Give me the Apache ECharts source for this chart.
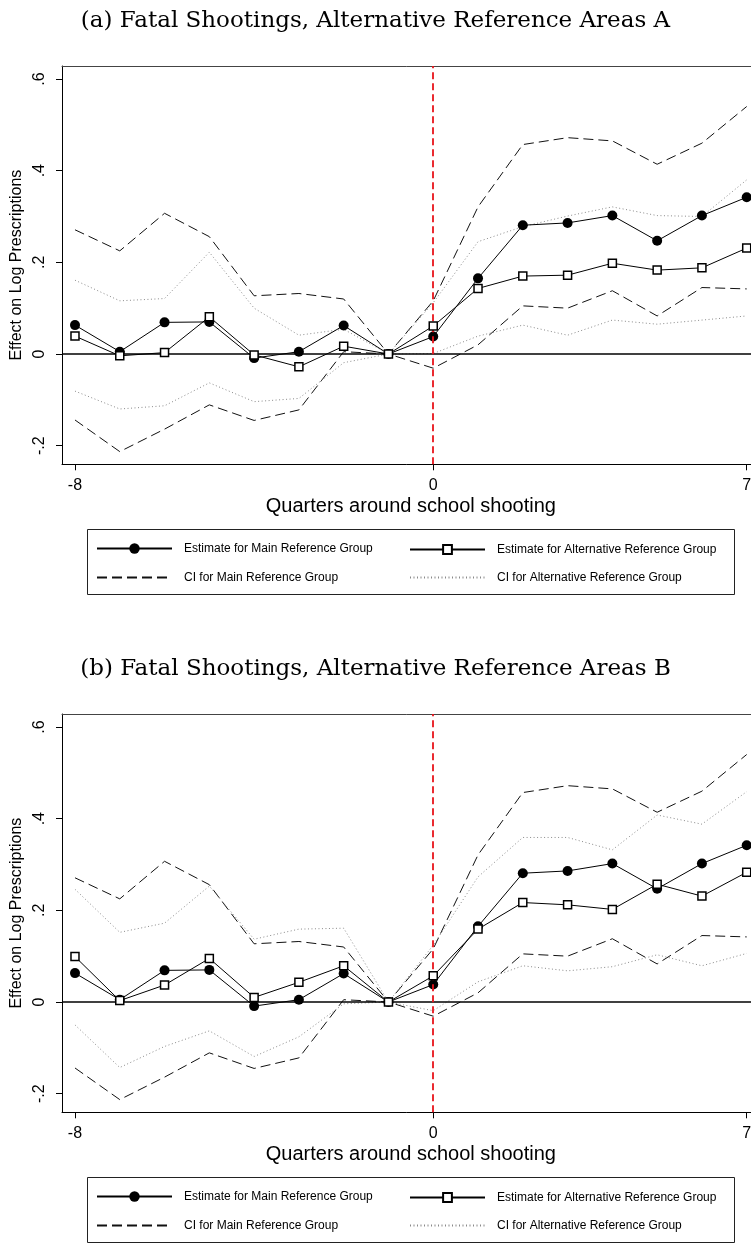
<!DOCTYPE html>
<html><head><meta charset="utf-8">
<script src="https://cdn.jsdelivr.net/npm/echarts@6/dist/echarts.min.js"></script>
<style>html,body{margin:0;padding:0;background:#fff}#c{width:751px;height:1243px}</style>
</head><body><div id="c"></div>
<script>
// ---- data ----
const quarters = [-8,-7,-6,-5,-4,-3,-2,-1,0,1,2,3,4,5,6,7];
const xTicks = [-8,0,7];
const yTicks = [-0.2,0,0.2,0.4,0.6];
const titles = ['(a) Fatal Shootings, Alternative Reference Areas A','(b) Fatal Shootings, Alternative Reference Areas B'];
const legendNames = ['Estimate for Main Reference Group','Estimate for Alternative Reference Group','CI for Main Reference Group','CI for Alternative Reference Group'];

// main reference group (same in both panels)
const mainEst = [0.063,0.005,0.069,0.070,-0.009,0.005,0.062,0,0.038,0.165,0.281,0.286,0.302,0.247,0.302,0.342];
const mainHi  = [0.271,0.225,0.307,0.256,0.127,0.132,0.120,0,0.116,0.321,0.457,0.472,0.465,0.414,0.460,0.540];
const mainLo  = [-0.144,-0.213,-0.164,-0.111,-0.145,-0.122,0.005,0,-0.031,0.020,0.105,0.100,0.138,0.083,0.145,0.142];
// panel A alternative group
const altEstA = [0.039,-0.004,0.003,0.081,-0.002,-0.028,0.017,0,0.061,0.143,0.170,0.172,0.198,0.183,0.188,0.231];
const altHiA  = [0.161,0.116,0.121,0.222,0.100,0.041,0.054,0,0.112,0.245,0.278,0.301,0.321,0.302,0.300,0.380];
const altLoA  = [-0.081,-0.120,-0.113,-0.063,-0.104,-0.097,-0.019,0,0.001,0.039,0.063,0.041,0.074,0.065,0.074,0.083];
// panel B alternative group
const altEstB = [0.099,0.003,0.037,0.095,0.010,0.043,0.079,0,0.057,0.159,0.217,0.212,0.202,0.257,0.231,0.283];
const altHiB  = [0.246,0.152,0.172,0.253,0.137,0.159,0.161,0,0.124,0.273,0.359,0.359,0.332,0.408,0.388,0.459];
const altLoB  = [-0.050,-0.143,-0.097,-0.063,-0.119,-0.076,-0.004,0,-0.019,0.044,0.079,0.068,0.077,0.103,0.079,0.106];

const panels = [
  {est: altEstA, hi: altHiA, lo: altLoA},
  {est: altEstB, hi: altHiB, lo: altLoB}
];

// ---- build ----
const pairs = arr => quarters.map((q,i)=>[q, arr[i]]);
const SANS = 'Liberation Sans, Arial, Helvetica, sans-serif';
const yFmt = v => { if (Math.abs(v) < 1e-9) return '0'; return String(Math.round(v*10)/10).replace('0.', '.'); };
const X_MIN = -8.29, X_MAX = 7.29, Y_MIN = -0.2407, Y_MAX = 0.6284;

const option = {
  animation: false,
  backgroundColor: '#fff',
  title: [], grid: [], xAxis: [], yAxis: [], series: [], legend: [], graphic: []
};

panels.forEach((p, k) => {
  const dy = k * 648;
  option.title.push({
    text: titles[k], left: 'center', top: 5 + dy,
    textStyle: {fontFamily: 'DejaVu Serif, serif', fontSize: 23, fontWeight: 'normal', color: '#000'}
  });
  option.grid.push({left: 62, top: 66 + dy, width: 697.7, height: 398.3, show: false,
    containLabel: false, outerBoundsMode: 'none'});
  option.xAxis.push({
    gridIndex: k, type: 'value', min: X_MIN, max: X_MAX,
    axisLine: {show: true, onZero: false, lineStyle: {color: '#000', width: 1}},
    axisTick: {show: true, customValues: xTicks, length: 6, lineStyle: {color: '#000'}},
    axisLabel: {customValues: xTicks, fontSize: 16, color: '#000', margin: 13, fontFamily: SANS,
      hideOverlap: false, showMinLabel: true, showMaxLabel: true},
    splitLine: {show: false},
    name: 'Quarters around school shooting', nameLocation: 'middle', nameGap: 32,
    nameTextStyle: {fontSize: 20, color: '#000', fontFamily: SANS}
  });
  option.xAxis.push({
    gridIndex: k, type: 'value', position: 'top', min: X_MIN, max: X_MAX,
    axisLine: {show: true, onZero: false, lineStyle: {color: '#444', width: 1}},
    axisTick: {show: false}, axisLabel: {show: false}, splitLine: {show: false}
  });
  option.yAxis.push({
    gridIndex: k, type: 'value', min: Y_MIN, max: Y_MAX,
    axisLine: {show: true, onZero: false, lineStyle: {color: '#000', width: 1}},
    axisTick: {show: true, customValues: yTicks, length: 6, lineStyle: {color: '#000'}},
    axisLabel: {customValues: yTicks, rotate: 90, formatter: yFmt, fontSize: 16, color: '#000', margin: 14, fontFamily: SANS},
    splitLine: {show: false},
    name: 'Effect on Log Prescriptions', nameLocation: 'middle', nameRotate: 90, nameGap: 31,
    nameTextStyle: {fontSize: 16, color: '#000', fontFamily: SANS}
  });
  const base = {xAxisIndex: 2 * k, yAxisIndex: k, type: 'line', silent: true};
  const dashed = {color: '#111', width: 1, type: [10,5]};
  const dotted = {color: '#8a8a8a', width: 1, type: [1,2.5]};
  option.series.push(
    Object.assign({}, base, {name: legendNames[2], data: pairs(mainHi), symbol: 'none', lineStyle: dashed, itemStyle: {color: '#111'}, z: 2}),
    Object.assign({}, base, {name: legendNames[2], data: pairs(mainLo), symbol: 'none', lineStyle: dashed, itemStyle: {color: '#111'}, z: 2}),
    Object.assign({}, base, {name: legendNames[3], data: pairs(p.hi), symbol: 'none', lineStyle: dotted, itemStyle: {color: '#888'}, z: 2}),
    Object.assign({}, base, {name: legendNames[3], data: pairs(p.lo), symbol: 'none', lineStyle: dotted, itemStyle: {color: '#888'}, z: 2}),
    Object.assign({}, base, {name: legendNames[0], data: pairs(mainEst), symbol: 'circle', symbolSize: 10,
      lineStyle: {color: '#000', width: 1}, itemStyle: {color: '#000'}, z: 4,
      markLine: {silent: true, symbol: 'none', label: {show: false}, animation: false,
        data: [
          {yAxis: 0, lineStyle: {color: '#000', width: 1.6, type: 'solid'}},
          {xAxis: 0, lineStyle: {color: '#e8141b', width: 1.8, type: [7,4]}}
        ]}}),
    Object.assign({}, base, {name: legendNames[1], data: pairs(p.est), symbol: 'rect', symbolSize: 8,
      lineStyle: {color: '#000', width: 1}, itemStyle: {color: '#fff', borderColor: '#000', borderWidth: 1.5}, z: 5})
  );
  const legPos = [[96, 549], [409, 549], [96, 577], [409, 577]];
  legendNames.forEach((n, i) => {
    const h = i === 0 ? 13 : 11;
    const leg = {
      data: [n], left: legPos[i][0], top: legPos[i][1] + dy - h / 2, padding: 0,
      itemWidth: 75, itemHeight: h, selectedMode: false,
      textStyle: {fontSize: 12, color: '#000', fontFamily: SANS, padding: [0,0,0,7]}
    };
    if (i >= 2) leg.itemStyle = {opacity: 0};
    option.legend.push(leg);
  });
  option.graphic.push({
    type: 'rect', silent: true,
    shape: {x: 87.5, y: 529.5 + dy, width: 647, height: 65},
    style: {fill: 'none', stroke: '#222', lineWidth: 1}
  });
});

const chart = echarts.init(document.getElementById('c'), null, {renderer: 'canvas'});
chart.setOption(option);
</script>
</body></html>
